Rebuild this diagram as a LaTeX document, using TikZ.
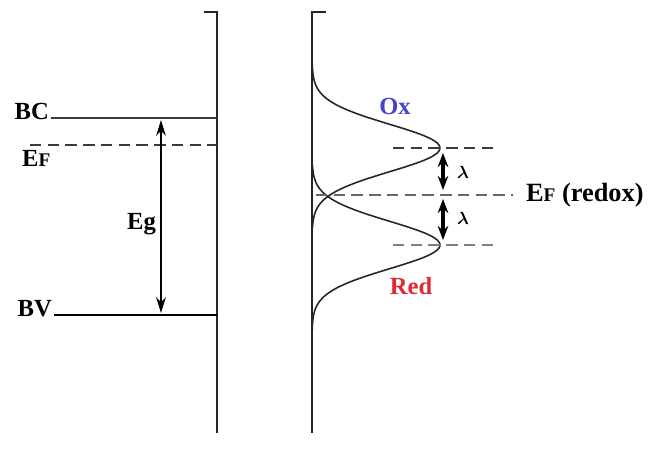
\documentclass[tikz,border=0pt]{standalone}
\usepackage{amsmath,amssymb}
\usepackage{fontspec}
\setmainfont{Liberation Serif}
\usepackage{xcolor}
\usetikzlibrary{arrows.meta,positioning,calc}
\definecolor{OxBlue}{HTML}{4545C8}
\definecolor{RedRed}{HTML}{E02A30}
\definecolor{LineGray}{HTML}{3A3A3A}
\newcommand{\Ef}{E{\fontsize{11}{12}\selectfont F}}

\begin{document}
\begin{tikzpicture}[x=0.02cm,y=-0.02cm,
    lbl/.style={font=\fontsize{14}{16}\selectfont\bfseries,inner sep=1pt},
    level/.style={LineGray,line width=0.9pt},
    dashlevel/.style={LineGray,line width=1pt,dash pattern=on 6.5pt off 3.6pt},
    wall/.style={black!85,line width=1.3pt},
    lamarrow/.style={black,line width=1.8pt,{Stealth[length=8pt,width=6pt]}-{Stealth[length=8pt,width=6pt]}}]
  \useasboundingbox (0,0) rectangle (648,459);
  % semiconductor side
  \coordinate (wallA-top) at (217,12);
  \coordinate (wallA-bot) at (217,433);
  \draw[wall] (204,12) -- (wallA-top) -- (wallA-bot);
  \node[lbl,anchor=east] (bc) at (51,111) {BC};
  \node[lbl,anchor=north west] (ef) at (20,148) {\Ef};
  \node[lbl,anchor=east] (bv) at (54,309) {BV};
  \coordinate (bc-end) at (217,118);
  \coordinate (ef-start) at (30,145);
  \coordinate (ef-end) at (217,145);
  \coordinate (bv-end) at (217,315);
  \draw[level] (bc.east |- bc-end) -- (bc-end);
  \draw[dashlevel] (ef-start) -- (ef-end);
  \draw[level,line width=1.2pt,black] (bv.east |- bv-end) -- (bv-end);
  \coordinate (eg-top) at (161,120);
  \coordinate (eg-bot) at (161,313);
  \draw[black,line width=1pt,{Stealth[length=9pt,width=5.5pt]}-{Stealth[length=9pt,width=5.5pt]}] (eg-top) -- (eg-bot);
  \node[lbl,anchor=east] (eg) at (158,224) {Eg};
  % electrolyte side
  \begin{scope}
    \coordinate (wallB-top) at (312,12);
    \coordinate (wallB-bot) at (312,433);
    \draw[wall] (326,12) -- (wallB-top) -- (wallB-bot);
    \draw[black!85,line width=0.9pt] plot[domain=48:228,samples=90,smooth]
      ({312+128*exp(-((\x-148)^2)/1124)},\x);
    \draw[black!85,line width=0.9pt] plot[domain=165:345,samples=90,smooth]
      ({312+128*exp(-((\x-245)^2)/1124)},\x);
    \coordinate (ox-a) at (393,148);
    \coordinate (ox-b) at (497,148);
    \coordinate (red-a) at (393,245);
    \coordinate (red-b) at (497,245);
    \coordinate (redox-a) at (316,195);
    \coordinate (redox-b) at (513,195);
    \draw[dashlevel] (ox-a) -- (ox-b);
    \draw[dashlevel,gray,line width=1.6pt] (red-a) -- (red-b);
    \draw[dashlevel,gray!80!black] (redox-a) -- (redox-b);
    \node[lbl,anchor=west,font=\fontsize{15}{17}\selectfont\bfseries] (efr) at (524,195) {\Ef{} (redox)};
    \node[lbl,OxBlue] (ox) at (395,106) {Ox};
    \node[lbl,RedRed] (red) at (411,286) {Red};
    \coordinate (l1-top) at (443,153);
    \coordinate (l1-bot) at (443,190);
    \coordinate (l2-top) at (443,199);
    \coordinate (l2-bot) at (443,240);
    \draw[lamarrow] (l1-top) -- (l1-bot);
    \draw[lamarrow] (l2-top) -- (l2-bot);
    \node[font=\fontsize{10}{11}\selectfont,anchor=west,inner sep=1pt] (lam1) at (455,172) {$\boldsymbol{\lambda}$};
    \node[font=\fontsize{10}{11}\selectfont,anchor=west,inner sep=1pt] (lam2) at (455,218) {$\boldsymbol{\lambda}$};
  \end{scope}
\end{tikzpicture}
\end{document}
